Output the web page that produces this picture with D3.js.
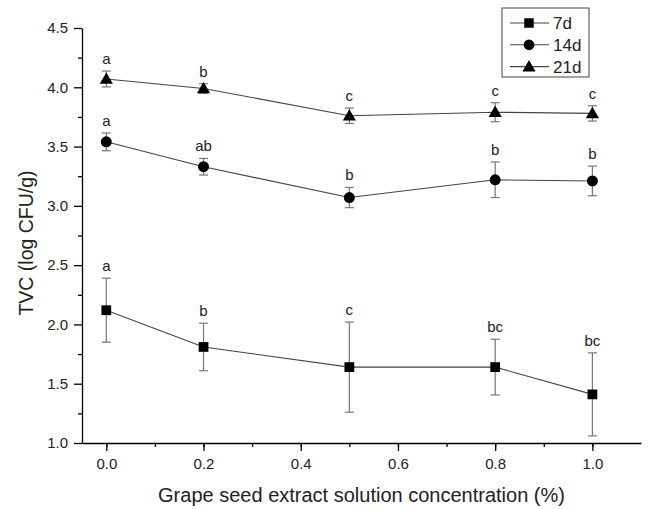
<!DOCTYPE html>
<html>
<head>
<meta charset="utf-8">
<script src="https://cdn.jsdelivr.net/npm/d3@7"></script>
<style>
  body { margin: 0; background: #fff; }
  svg { font-family: "Liberation Sans", Arial, sans-serif; }
  .axis path, .axis line { stroke: #000; stroke-width: 1.3; }
  .axis text { fill: #222; font-size: 15px; }
</style>
</head>
<body>
<div class="chart"></div>
<script>
// values
var conc = [0, 0.2, 0.5, 0.8, 1.0];

var tvc7 = [2.12, 1.81, 1.64, 1.64, 1.41];
var err7 = [0.27, 0.20, 0.38, 0.235, 0.35];
var sig7 = ["a", "b", "c", "bc", "bc"];

var tvc14 = [3.54, 3.33, 3.07, 3.22, 3.21];
var err14 = [0.075, 0.07, 0.085, 0.15, 0.125];
var sig14 = ["a", "ab", "b", "b", "b"];

var tvc21 = [4.07, 3.99, 3.76, 3.79, 3.78];
var err21 = [0.067, 0.04, 0.065, 0.08, 0.065];
var sig21 = ["a", "b", "c", "c", "c"];

var seriesNames = ["7d", "14d", "21d"];
var xTicks = [0, 0.2, 0.4, 0.6, 0.8, 1.0];
var yTicks = [1.0, 1.5, 2.0, 2.5, 3.0, 3.5, 4.0, 4.5];

var series = [
  {name: seriesNames[0], mean: tvc7, err: err7, sig: sig7, shape: d3.symbolSquare},
  {name: seriesNames[1], mean: tvc14, err: err14, sig: sig14, shape: d3.symbolCircle},
  {name: seriesNames[2], mean: tvc21, err: err21, sig: sig21, shape: d3.symbolTriangle}
];

var svgWidth = 651, svgHeight = 509;

var svg = d3.select(".chart")
  .append("svg")
  .attr("width", svgWidth)
  .attr("height", svgHeight);

var x = d3.scaleLinear().domain([-0.05, 1.1]).range([82, 641]);
var y = d3.scaleLinear().domain([1.0, 4.5]).range([443, 28]);

// x axis with minor ticks
svg.append("g")
  .attr("class", "axis")
  .attr("transform", "translate(0," + y(1.0) + ")")
  .call(d3.axisBottom(x).tickValues(d3.range(0, 1.05, 0.1)).tickSize(4).tickFormat(""))
  .call(function(g) { g.select(".domain").remove(); });

svg.append("g")
  .attr("class", "axis")
  .attr("transform", "translate(0," + y(1.0) + ")")
  .call(d3.axisBottom(x).tickValues(xTicks).tickSizeInner(8).tickSizeOuter(0).tickPadding(7).tickFormat(d3.format(".1f")));

// y axis with minor ticks
svg.append("g")
  .attr("class", "axis")
  .attr("transform", "translate(" + x(-0.05) + ",0)")
  .call(d3.axisLeft(y).tickValues(d3.range(1.25, 4.5, 0.5)).tickSize(4).tickFormat(""))
  .call(function(g) { g.select(".domain").remove(); });

svg.append("g")
  .attr("class", "axis")
  .attr("transform", "translate(" + x(-0.05) + ",0)")
  .call(d3.axisLeft(y).tickValues(yTicks).tickSizeInner(8).tickSizeOuter(0).tickPadding(6).tickFormat(d3.format(".1f")));

// axis titles
svg.append("text")
  .attr("transform", "translate(33,243) rotate(-90)")
  .attr("text-anchor", "middle")
  .style("font-size", "19.5px")
  .style("fill", "#222")
  .text("TVC (log CFU/g)");

svg.append("text")
  .attr("x", (x(-0.05) + x(1.1)) / 2)
  .attr("y", 502)
  .attr("text-anchor", "middle")
  .style("font-size", "20px")
  .style("fill", "#222")
  .text("Grape seed extract solution concentration (%)");

var line = d3.line()
  .x(function(d) { return x(d.c); })
  .y(function(d) { return y(d.v); });

series.forEach(function(s) {
  var pts = conc.map(function(c, i) {
    return {c: c, v: s.mean[i], e: s.err[i], l: s.sig[i]};
  });
  var g = svg.append("g");

  // error bars
  var eb = g.selectAll(".eb").data(pts).enter().append("g")
    .style("stroke", "#777").style("stroke-width", 1.2);
  eb.append("line")
    .attr("x1", function(d) { return x(d.c); })
    .attr("x2", function(d) { return x(d.c); })
    .attr("y1", function(d) { return y(d.v + d.e); })
    .attr("y2", function(d) { return y(d.v - d.e); });
  eb.append("line")
    .attr("x1", function(d) { return x(d.c) - 4.5; })
    .attr("x2", function(d) { return x(d.c) + 4.5; })
    .attr("y1", function(d) { return y(d.v + d.e); })
    .attr("y2", function(d) { return y(d.v + d.e); });
  eb.append("line")
    .attr("x1", function(d) { return x(d.c) - 4.5; })
    .attr("x2", function(d) { return x(d.c) + 4.5; })
    .attr("y1", function(d) { return y(d.v - d.e); })
    .attr("y2", function(d) { return y(d.v - d.e); });

  g.append("path")
    .datum(pts)
    .attr("d", line)
    .style("fill", "none")
    .style("stroke", "#444")
    .style("stroke-width", 1.1);

  g.selectAll(".pt").data(pts).enter().append("path")
    .attr("transform", function(d) {
      return "translate(" + x(d.c) + "," + (y(d.v) + (s.shape === d3.symbolTriangle ? 1 : 0)) + ")";
    })
    .attr("d", d3.symbol().type(s.shape).size(s.shape === d3.symbolTriangle ? 75 : 95))
    .style("fill", "#000");

  // significance letters
  g.selectAll(".sig").data(pts).enter().append("text")
    .attr("x", function(d) { return x(d.c); })
    .attr("y", function(d) { return y(d.v + d.e) - 7; })
    .attr("text-anchor", "middle")
    .style("font-size", "15px")
    .style("fill", "#222")
    .text(function(d) { return d.l; });
});

// legend
var legend = svg.append("g");
legend.append("rect")
  .attr("x", 502).attr("y", 8)
  .attr("width", 87).attr("height", 69)
  .style("fill", "#fff")
  .style("stroke", "#444")
  .style("stroke-width", 1);

series.forEach(function(s, i) {
  var ly = 23 + i * 21.8;
  legend.append("line")
    .attr("x1", 510).attr("x2", 549)
    .attr("y1", ly).attr("y2", ly)
    .style("stroke", "#444").style("stroke-width", 1.1);
  legend.append("path")
    .attr("transform", "translate(529," + (ly + (s.shape === d3.symbolTriangle ? 1 : 0)) + ")")
    .attr("d", d3.symbol().type(s.shape).size(s.shape === d3.symbolTriangle ? 75 : 90))
    .style("fill", "#000");
  legend.append("text")
    .attr("x", 553).attr("y", ly + 6)
    .style("font-size", "17px")
    .style("fill", "#222")
    .text(s.name);
});
</script>
</body>
</html>
